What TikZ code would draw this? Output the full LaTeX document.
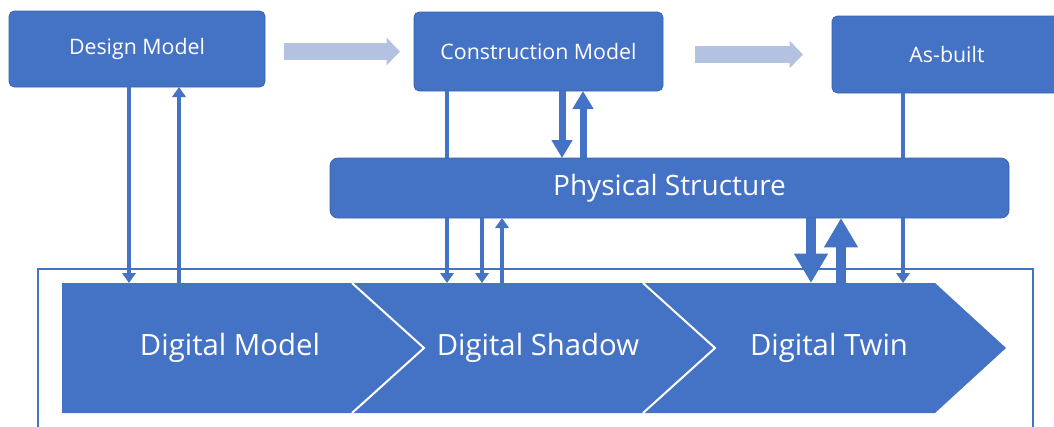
\documentclass[tikz,border=0pt]{standalone}
\usepackage{fontspec}
\setmainfont{Open Sans}
\usetikzlibrary{arrows.meta}
\definecolor{oblue}{HTML}{4472C4}
\definecolor{oedge}{HTML}{3A63AE}
\definecolor{olight}{HTML}{B4C2E2}
\begin{document}
\begin{tikzpicture}[x=0.75pt,y=-0.75pt,
  box/.style={fill=oblue, draw=oedge, line width=0.6pt, rounded corners=4pt, inner sep=0pt, outer sep=0pt, text=white, font=\fontsize{16}{19}\selectfont},
  chevtext/.style={inner sep=0pt, outer sep=0pt, minimum height=97.5pt, text=white, font=\fontsize{22}{26}\selectfont},
  conthin/.style={draw=oblue, line width=2.8pt, -{Triangle[width=10pt,length=7.5pt]}},
  conmid/.style={draw=oblue, line width=5.25pt, -{Triangle[width=15pt,length=13.5pt]}},
  conthick/.style={draw=oblue, line width=8pt, -{Triangle[width=24pt,length=22pt]}},
  blockarrow/.style={draw=olight, line width=12.75pt, -{Triangle[width=20pt,length=10pt]}},
  chevfill/.style={fill=oblue},
  chevsep/.style={draw=white, line width=1.5pt},
]
\useasboundingbox (0,0) rectangle (1054,426);
\clip (0,0) rectangle (1054,426);

% outer frame
\draw[draw=oblue, line width=1.1pt] (38,269) rectangle (1033,445);

% chevrons
\fill[chevfill] (62,283) -- (352,283) -- (424,348) -- (352,413) -- (62,413) -- cycle;
\fill[chevfill] (352,283) -- (643,283) -- (715,348) -- (643,413) -- (352,413) -- (424,348) -- cycle;
\fill[chevfill] (643,283) -- (935,283) -- (1006,348) -- (935,413) -- (643,413) -- (715,348) -- cycle;
\draw[chevsep] (352,283) -- (424,348) -- (352,413);
\draw[chevsep] (643,283) -- (715,348) -- (643,413);

\node[chevtext] (dm) at (230,348) {Digital Model};
\node[chevtext] (ds) at (538,348) {Digital Shadow};
\node[chevtext] (dt) at (829,348) {Digital Twin};

% top boxes
\node[box, minimum width=192pt, minimum height=57pt] (design) at (137,49) {Design Model};
\node[box, minimum width=186.75pt, minimum height=59.25pt] (constr) at (538.5,51.5) {Construction Model};
\node[box, minimum width=172.5pt, minimum height=57.75pt] (asbuilt) at (947,54.5) {As-built};

% x positions of connectors
\coordinate (xa) at (129,0);
\coordinate (xb) at (179,0);
\coordinate (xc) at (447,0);
\coordinate (xd) at (482,0);
\coordinate (xe) at (502,0);
\coordinate (xf) at (562,0);
\coordinate (xg) at (583,0);
\coordinate (xh) at (811,0);
\coordinate (xi) at (841,0);
\coordinate (xj) at (903,0);

\draw[conthin] (design.south -| xa) -- (dm.north -| xa);
\draw[conthin] (dm.north -| xb) -- (design.south -| xb);
\draw[conthin] (constr.south -| xc) -- (ds.north -| xc);
\draw[conthin] (asbuilt.south -| xj) -- (dt.north -| xj);

\node[box, rounded corners=6pt, minimum width=509.25pt, minimum height=45pt, font=\fontsize{21}{25}\selectfont] (phys) at (669.5,188) {Physical Structure};

\draw[conthin] (phys.south -| xd) -- (ds.north -| xd);
\draw[conthin] (ds.north -| xe) -- (phys.south -| xe);
\draw[conmid] (constr.south -| xf) -- (phys.north -| xf);
\draw[conmid] (phys.north -| xg) -- (constr.south -| xg);
\draw[conthick] (phys.south -| xh) -- (dt.north -| xh);
\draw[conthick] (dt.north -| xi) -- (phys.south -| xi);

\draw[blockarrow, shorten <=14.25pt, shorten >=10.5pt] (design.east |- constr.west) -- (constr.west);
\draw[blockarrow, shorten <=24pt, shorten >=21.75pt] (constr.east |- asbuilt.west) -- (asbuilt.west);
\end{tikzpicture}
\end{document}
